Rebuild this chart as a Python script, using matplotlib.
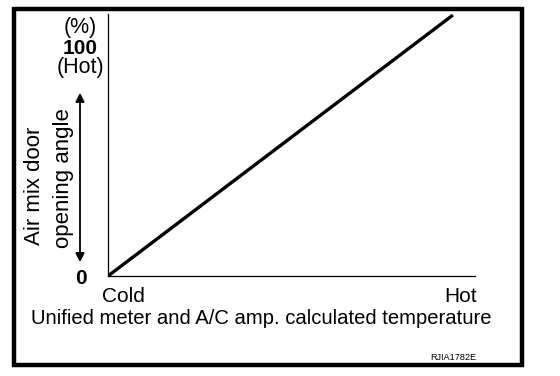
import matplotlib.pyplot as plt
from matplotlib.patches import Rectangle

plt.rcParams['font.family'] = ['Liberation Sans', 'DejaVu Sans']

# data: door opening vs temperature (linear)
temp = [0, 100]          # Cold -> Hot
opening = [0, 100]       # 0 % -> 100 %
x_labels = ['Cold', 'Hot']

W, H = 560, 376
fig = plt.figure(figsize=(W / 100, H / 100), dpi=100)

def fx(px):
    return px / W

def fy(py):
    return 1 - py / H

#-- outer frame
fig.patches.append(Rectangle((fx(14), fy(365)), fx(522) - fx(14), fy(9) - fy(365),
                             transform=fig.transFigure, fill=False, lw=3.2, ec='black'))

#-- axes, only left and bottom spines
ax = fig.add_axes([fx(108), fy(276), fx(475) - fx(108), fy(14) - fy(276)])
for s in ['right', 'top']:
    ax.spines[s].set_visible(False)
for s in ['left', 'bottom']:
    ax.spines[s].set_linewidth(0.9)
ax.set_xticks([])
ax.set_yticks([])
ax.set_xlim(0, 106.4)
ax.set_ylim(0, 100.4)
ax.plot(temp, opening, color='black', lw=2.4, solid_capstyle='butt')

#-- y labels
fig.text(fx(80), fy(27), '(%)', ha='center', va='center', fontsize=15.5)
fig.text(fx(80), fy(49), '100', ha='center', va='center', fontsize=15, weight='bold')
fig.text(fx(80), fy(68), '(Hot)', ha='center', va='center', fontsize=15.5)
fig.text(fx(81), fy(278), '0', ha='center', va='center', fontsize=15, weight='bold')

ax.annotate('', xy=(fx(80), fy(90)), xytext=(fx(80), fy(265)), xycoords='figure fraction',
            textcoords='figure fraction',
            arrowprops=dict(arrowstyle='<|-|>', color='black', lw=1.3, mutation_scale=13))

fig.text(fx(34), fy(186), 'Air mix door', ha='center', va='center', rotation=90, fontsize=16)
fig.text(fx(63), fy(178), 'opening angle', ha='center', va='center', rotation=90, fontsize=16)

#-- x labels
fig.text(fx(123), fy(296), x_labels[0], ha='center', va='center', fontsize=15)
fig.text(fx(461), fy(296), x_labels[1], ha='center', va='center', fontsize=15)
fig.text(fx(261), fy(318), 'Unified meter and A/C amp. calculated temperature',
         ha='center', va='center', fontsize=14.6)

fig.text(fx(476), fy(357), 'RJIA1782E', ha='right', va='center', fontsize=6.6)

plt.savefig('out.png', dpi=100)
